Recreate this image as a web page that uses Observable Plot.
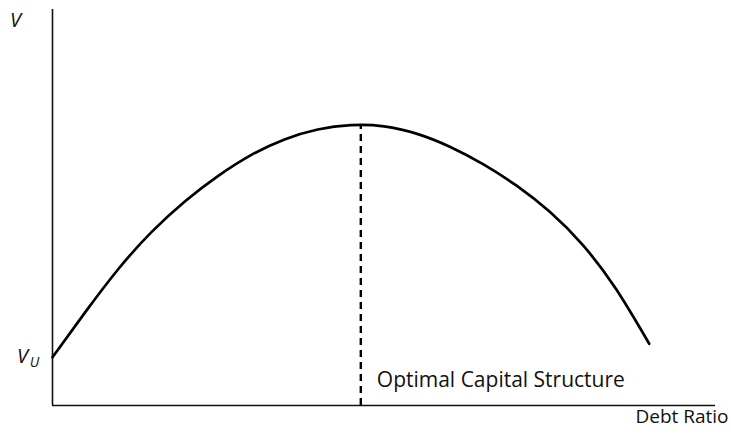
<!DOCTYPE html>
<html>
<head>
<meta charset="utf-8">
<script src="https://cdn.jsdelivr.net/npm/d3@7"></script>
<script src="https://cdn.jsdelivr.net/npm/@observablehq/plot@0.6"></script>
<style>
  html, body { margin: 0; padding: 0; background: #fff; }
  svg { display: block; }
</style>
</head>
<body>
<div id="chart"></div>
<script>
// Debt ratio (% of the horizontal range) and firm value V (arbitrary units)
const debtRatio = [0, 5, 10, 15, 20, 25, 30, 35, 40, 45, 50, 55, 60, 65, 70, 75, 80, 85, 90];
const firmValue = [12.2, 23.7, 34.6, 43.9, 51.6, 58.0, 63.3, 67.2, 69.7, 70.8, 70.5, 68.6, 65.3, 60.9, 55.5, 48.9, 40.5, 29.4, 15.6];
const optimalDebt = 46.5;
const peakValue = 70.9;
const unleveredValue = 12.2;
const xMax = 100;
const yMax = 100;
const labelV = "V";
const labelVsub = "U";
const labelOptimal = "Optimal Capital Structure";
const labelX = "Debt Ratio";

const curve = debtRatio.map((d, i) => ({x: d, y: firmValue[i]}));
const font = "'Open Sans', 'Noto Sans', sans-serif";

const chart = Plot.plot({
  width: 731,
  height: 435,
  marginLeft: 52,
  marginRight: 16,
  marginTop: 9,
  marginBottom: 30,
  style: {fontFamily: font, background: "#fff"},
  x: {domain: [0, xMax], axis: null},
  y: {domain: [0, yMax], axis: null},
  marks: [
    Plot.ruleX([0], {y1: 0, y2: yMax, stroke: "#111", strokeWidth: 1.6}),
    Plot.ruleY([0], {x1: 0, x2: xMax, stroke: "#111", strokeWidth: 1.6}),
    Plot.line(curve, {x: "x", y: "y", curve: "natural", stroke: "#000", strokeWidth: 2.7}),
    Plot.ruleX([optimalDebt], {y1: 0, y2: peakValue, stroke: "#000", strokeWidth: 2.4, strokeDasharray: "7,5"}),
    Plot.text([labelV], {x: 0, y: yMax, text: d => d, dx: -37, dy: 11, fontSize: 20, fontStyle: "italic", textAnchor: "middle", fill: "#111"}),
    Plot.text([labelV], {x: 0, y: unleveredValue, text: d => d, dx: -30, dy: -1, fontSize: 20, fontStyle: "italic", textAnchor: "middle", fill: "#111"}),
    Plot.text([labelVsub], {x: 0, y: unleveredValue, text: d => d, dx: -18, dy: 5, fontSize: 14, fontStyle: "italic", textAnchor: "middle", fill: "#111"}),
    Plot.text([labelOptimal], {x: optimalDebt, y: 0, text: d => d, dx: 16, dy: -25, fontSize: 21, textAnchor: "start", fill: "#111"}),
    Plot.text([labelX], {x: xMax, y: 0, text: d => d, dx: 13, dy: 11, fontSize: 19, textAnchor: "end", fill: "#111"})
  ]
});
document.getElementById("chart").appendChild(chart);
</script>
</body>
</html>
